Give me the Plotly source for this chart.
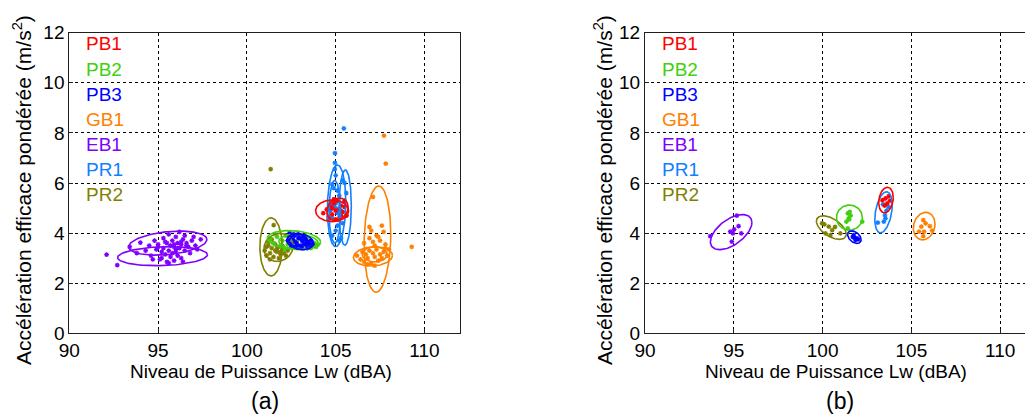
import numpy as np
import plotly.graph_objects as go

# ---------------- data ----------------
GROUPS = ["PB1", "PB2", "PB3", "GB1", "EB1", "PR1", "PR2"]
COLORS = {"PB1": "#ff0000", "PB2": "#40d010", "PB3": "#0000ff", "GB1": "#ff8000",
          "EB1": "#8000ff", "PR1": "#1080ff", "PR2": "#808000"}

X_TICKS = [90, 95, 100, 105, 110]
Y_TICKS = [0, 2, 4, 6, 8, 10, 12]
X_TITLE = "Niveau de Puissance Lw (dBA)"
Y_TITLE = "Accélération efficace pondérée (m/s<sup>2</sup>)"
PANEL_LABELS = ["(a)", "(b)"]

# ---- panel (a): measured points ----
A_EB1_x = [92.1, 92.7, 93.4, 93.8, 94.0, 94.3, 94.5, 94.6, 94.8, 94.9, 95.0, 95.1, 95.2, 95.3, 95.3,
           95.4, 95.5, 95.5, 95.6, 95.6, 95.7, 95.7, 95.8, 95.8, 95.9, 95.9, 96.0, 96.0, 96.1, 96.1,
           96.2, 96.2, 96.3, 96.3, 96.4, 96.5, 96.5, 96.6, 96.7, 96.8, 96.9, 97.0, 97.1, 97.2, 97.4,
           95.2, 95.6, 96.0, 96.4, 94.7, 95.4, 95.9, 96.3, 96.6, 95.0]
A_EB1_y = [3.14, 2.72, 3.45, 3.20, 3.62, 3.30, 3.50, 3.10, 3.70, 3.35, 3.55, 2.95, 3.25, 3.80, 3.40,
           3.15, 3.60, 2.85, 3.95, 3.30, 3.50, 3.05, 3.70, 3.20, 3.45, 2.90, 3.85, 3.35, 3.60, 3.10,
           4.05, 3.40, 3.55, 3.00, 3.75, 3.90, 3.30, 3.60, 3.45, 3.20, 3.70, 3.85, 3.50, 3.35, 3.75,
           3.00, 2.80, 3.25, 2.85, 2.95, 3.65, 3.55, 3.65, 3.50, 3.45]

A_PR2_x = [101.34, 101.51, 101.0, 101.1, 101.2, 101.3, 101.4, 101.5, 101.6, 101.7, 101.8, 101.9, 102.0,
           102.1, 102.2, 101.2, 101.4, 101.6, 101.8, 102.0, 101.3, 101.5, 101.7, 101.9, 101.1, 102.3]
A_PR2_y = [6.55, 4.32, 3.30, 3.10, 3.50, 3.20, 3.40, 3.05, 3.55, 3.25, 3.45, 3.15, 3.35,
           3.20, 3.10, 3.65, 3.75, 3.30, 3.00, 3.50, 2.95, 3.60, 3.40, 3.25, 3.45, 3.30]

A_PB2_x = [101.3, 101.5, 101.7, 101.9, 102.0, 102.2, 102.3, 102.5, 102.6, 102.8, 103.0, 103.2, 103.4,
           103.6, 103.8, 104.0, 101.6, 102.1, 102.7, 103.3, 103.9, 102.4]
A_PB2_y = [3.75, 3.60, 3.85, 3.50, 3.70, 3.90, 3.55, 3.80, 3.45, 3.65, 3.85, 3.50, 3.75,
           3.40, 3.60, 3.55, 3.95, 3.35, 3.95, 3.90, 3.45, 3.60]

A_PB3_x = [102.3, 102.4, 102.5, 102.6, 102.7, 102.8, 102.9, 103.0, 103.1, 103.2, 103.3, 103.4, 103.5,
           103.6, 103.7, 102.5, 102.7, 102.9, 103.1, 103.3, 103.5, 102.6, 102.8, 103.0, 103.2, 103.4, 102.4]
A_PB3_y = [3.70, 3.85, 3.55, 3.75, 3.90, 3.60, 3.80, 3.50, 3.70, 3.85, 3.55, 3.65, 3.45,
           3.70, 3.55, 3.45, 3.65, 3.95, 3.40, 3.75, 3.60, 3.95, 3.50, 3.80, 3.60, 3.40, 4.00]

A_PB1_x = [104.3, 104.5, 104.6, 104.7, 104.8, 104.9, 105.0, 105.1, 105.2, 105.3, 105.4, 105.5, 105.6,
           104.6, 104.9, 105.2, 105.5, 105.0, 104.8, 105.3]
A_PB1_y = [4.80, 4.95, 4.65, 5.05, 4.75, 5.20, 4.90, 5.30, 4.60, 5.10, 4.85, 5.25, 4.70,
           4.55, 5.35, 4.95, 5.05, 4.55, 5.00, 4.70]

A_PR1_x = [105.46, 104.96, 104.96, 104.95, 104.7, 104.8, 104.9, 105.0, 105.1, 105.2, 105.3, 105.4,
           105.5, 105.6, 104.8, 105.0, 105.2, 105.4, 104.9, 105.1, 105.3, 105.0, 104.7, 105.5,
           105.0, 105.2, 104.9, 105.6, 105.1, 104.8]
A_PR1_y = [8.18, 7.19, 6.80, 6.55, 5.20, 4.60, 5.80, 5.00, 4.30, 5.50, 4.90, 6.10, 5.30, 4.70,
           3.90, 6.30, 3.70, 4.40, 5.10, 5.70, 3.80, 5.20, 4.90, 6.00, 4.10, 4.95, 5.35, 5.60,
           4.80, 5.95]

A_GB1_x = [107.72, 107.82, 109.28, 107.10, 106.2, 106.4, 106.5, 106.6, 106.7, 106.8, 106.9, 107.0,
           107.1, 107.2, 107.3, 107.4, 107.5, 107.6, 107.7, 107.8, 107.9, 108.0, 106.6, 106.9,
           107.2, 107.5, 107.8, 107.0, 107.3, 107.6, 106.9, 107.1, 107.4, 107.7, 106.8, 107.2]
A_GB1_y = [7.89, 6.77, 3.45, 5.45, 3.10, 2.95, 3.25, 2.85, 3.15, 3.00, 3.30, 2.80, 3.20, 3.05,
           3.35, 2.90, 3.15, 3.00, 3.25, 3.40, 3.10, 3.35, 3.60, 3.80, 3.50, 3.70, 3.55, 4.10,
           3.90, 4.30, 4.25, 3.65, 3.85, 4.05, 2.75, 2.70]

A_POINTS = {"EB1": (A_EB1_x, A_EB1_y), "PR2": (A_PR2_x, A_PR2_y), "PB2": (A_PB2_x, A_PB2_y),
            "PB3": (A_PB3_x, A_PB3_y), "PR1": (A_PR1_x, A_PR1_y), "PB1": (A_PB1_x, A_PB1_y),
            "GB1": (A_GB1_x, A_GB1_y)}

# panel (a) ellipses: group, centre x, centre y, half-width, half-height, correlation
A_ELL_group = ["EB1", "EB1", "PR2", "PR2", "PB2", "PB2", "PB3", "PB3", "PR1", "PR1", "PR1",
               "PB1", "PB1", "GB1", "GB1", "GB1"]
A_ELL_cx = [95.55, 95.25, 101.36, 101.78, 102.65, 102.9, 103.0, 102.9, 105.05, 105.53, 104.95,
            104.8, 105.1, 107.35, 107.1, 107.2]
A_ELL_cy = [3.60, 3.08, 3.45, 3.43, 3.72, 3.65, 3.66, 3.70, 5.09, 5.02, 4.85,
            4.89, 4.95, 3.76, 3.07, 3.15]
A_ELL_sx = [2.20, 2.53, 0.63, 0.82, 1.50, 1.10, 0.75, 0.50, 0.52, 0.35, 0.32,
            0.93, 0.60, 0.75, 1.10, 0.70]
A_ELL_sy = [0.48, 0.38, 1.16, 0.56, 0.38, 0.30, 0.32, 0.25, 1.63, 1.50, 1.25,
            0.43, 0.45, 2.12, 0.385, 0.30]
A_ELL_rho = [0.30, 0.15, 0.0, 0.10, -0.20, -0.10, -0.20, 0.0, 0.10, 0.05, 0.0,
             0.0, 0.20, 0.10, 0.10, 0.0]

# ---- panel (b): mean points ----
B_EB1_x = [95.17, 95.27, 94.95, 94.80, 95.42, 94.89, 95.02, 93.67]
B_EB1_y = [4.70, 4.28, 3.99, 4.06, 3.99, 3.66, 4.15, 3.88]
B_PR2_x = [99.97, 100.35, 100.16, 100.54, 101.00, 100.44, 100.70, 100.10]
B_PR2_y = [4.39, 4.26, 3.99, 4.12, 3.99, 3.92, 4.25, 4.35]
B_PB2_x = [101.42, 101.47, 101.34, 101.53, 102.23, 101.42, 101.58, 101.50]
B_PB2_y = [4.79, 4.59, 4.46, 4.85, 4.46, 4.19, 4.70, 4.55]
B_PB3_x = [101.75, 101.94, 101.85, 101.70, 102.00, 101.80]
B_PB3_y = [3.92, 3.79, 3.73, 3.85, 3.75, 3.82]
B_PR1_x = [103.51, 103.54, 103.45, 103.11, 103.73, 103.60, 103.40]
B_PR1_y = [4.72, 4.59, 4.46, 4.42, 5.05, 4.90, 5.15]
B_PB1_x = [103.54, 103.64, 103.37, 103.73, 103.50, 103.80]
B_PB1_y = [5.39, 5.19, 5.32, 5.48, 5.10, 5.30]
B_GB1_x = [105.67, 105.80, 105.56, 106.04, 105.71, 105.43, 106.17, 105.67]
B_GB1_y = [4.52, 4.39, 4.26, 4.28, 4.06, 4.06, 4.10, 3.88]

B_POINTS = {"EB1": (B_EB1_x, B_EB1_y), "PR2": (B_PR2_x, B_PR2_y), "PB2": (B_PB2_x, B_PB2_y),
            "PB3": (B_PB3_x, B_PB3_y), "PR1": (B_PR1_x, B_PR1_y), "PB1": (B_PB1_x, B_PB1_y),
            "GB1": (B_GB1_x, B_GB1_y)}

B_ELL_group = ["EB1", "PR2", "PB2", "PB3", "PR1", "PB1", "GB1"]
B_ELL_cx = [94.85, 100.49, 101.51, 101.79, 103.43, 103.57, 105.72]
B_ELL_cy = [4.04, 4.22, 4.62, 3.84, 4.83, 5.32, 4.28]
B_ELL_sx = [1.17, 0.84, 0.73, 0.38, 0.49, 0.41, 0.61]
B_ELL_sy = [0.70, 0.47, 0.50, 0.25, 0.82, 0.51, 0.55]
B_ELL_rho = [0.55, -0.55, 0.0, -0.40, 0.35, 0.20, 0.15]

# ---------------- figure ----------------
W, H = 1025, 419
FONT = "Arial, Liberation Sans, sans-serif"
fig = go.Figure()

T = np.linspace(0, 2 * np.pi, 120)


def ellipse(cx, cy, sx, sy, rho):
    ex = cx + sx * np.cos(T)
    ey = cy + sy * (rho * np.cos(T) + np.sqrt(1 - rho ** 2) * np.sin(T))
    return ex, ey


def add_panel(points, eg, ecx, ecy, esx, esy, erho, xa, ya, msize):
    for g, (px, py) in points.items():
        fig.add_trace(go.Scatter(x=px, y=py, mode="markers", xaxis=xa, yaxis=ya,
                                 marker=dict(symbol="asterisk-open", size=msize, color=COLORS[g],
                                             line=dict(color=COLORS[g], width=1.2)),
                                 showlegend=False, hoverinfo="skip"))
    for g, cx, cy, sx, sy, r in zip(eg, ecx, ecy, esx, esy, erho):
        ex, ey = ellipse(cx, cy, sx, sy, r)
        fig.add_trace(go.Scatter(x=ex, y=ey, mode="lines", xaxis=xa, yaxis=ya,
                                 line=dict(color=COLORS[g], width=1.6),
                                 showlegend=False, hoverinfo="skip"))


add_panel(A_POINTS, A_ELL_group, A_ELL_cx, A_ELL_cy, A_ELL_sx, A_ELL_sy, A_ELL_rho, "x", "y", 4)
add_panel(B_POINTS, B_ELL_group, B_ELL_cx, B_ELL_cy, B_ELL_sx, B_ELL_sy, B_ELL_rho, "x2", "y2", 4)

# pixel layout
AX_LEFT_A, AX_RIGHT_A = 69.3, 460.0
AX_LEFT_B = 645.0
AX_TOP, AX_BOTTOM = 32.7, 333.3
px_per_unit = (AX_RIGHT_A - AX_LEFT_A) / 22.0
xmax_b = 90 + (W - AX_LEFT_B) / px_per_unit

ydom = [1 - AX_BOTTOM / H, 1 - AX_TOP / H]
axis_common = dict(showline=True, linecolor="#202020", linewidth=1, mirror=True,
                   showgrid=True, gridcolor="black", griddash="dot", gridwidth=1,
                   zeroline=False, ticks="inside", ticklen=4, tickcolor="#202020",
                   automargin=False,
                   tickfont=dict(family=FONT, size=19, color="black"))

fig.update_layout(
    template="none",
    width=W, height=H, margin=dict(l=0, r=0, t=0, b=0, autoexpand=False),
    paper_bgcolor="white", plot_bgcolor="white", showlegend=False,
    xaxis=dict(domain=[AX_LEFT_A / W, AX_RIGHT_A / W], range=[90, 112], tickvals=X_TICKS,
               anchor="y", **axis_common),
    yaxis=dict(domain=ydom, range=[0, 12], tickvals=Y_TICKS, anchor="x", **axis_common),
    xaxis2=dict(domain=[AX_LEFT_B / W, 1.0], range=[90, xmax_b], tickvals=X_TICKS,
                anchor="y2", **axis_common),
    yaxis2=dict(domain=ydom, range=[0, 12], tickvals=Y_TICKS, anchor="x2",
                **{**axis_common, "mirror": False}),
)

annotations = []
for i, g in enumerate(GROUPS):
    for xr, yr in (("x", "y"), ("x2", "y2")):
        annotations.append(dict(x=90.85, y=11.55 - i, xref=xr, yref=yr, text=g, showarrow=False,
                                xanchor="left", yanchor="middle",
                                font=dict(family=FONT, size=19, color=COLORS[g])))

for cx_px, ytitle_px, lab_px, lab in ((261, 22, 265, PANEL_LABELS[0]), (836, 603, 840, PANEL_LABELS[1])):
    annotations.append(dict(x=cx_px / W, y=1 - 371 / H, xref="paper", yref="paper", text=X_TITLE,
                            showarrow=False, xanchor="center", yanchor="middle",
                            font=dict(family=FONT, size=19, color="black")))
    annotations.append(dict(x=ytitle_px / W, y=1 - 190 / H, xref="paper", yref="paper", text=Y_TITLE,
                            showarrow=False, xanchor="center", yanchor="middle", textangle=-90,
                            font=dict(family=FONT, size=21, color="black")))
    annotations.append(dict(x=lab_px / W, y=1 - 401 / H, xref="paper", yref="paper", text=lab,
                            showarrow=False, xanchor="center", yanchor="middle",
                            font=dict(family=FONT, size=23, color="black")))

fig.update_layout(annotations=annotations)
fig.write_html("out.html")
